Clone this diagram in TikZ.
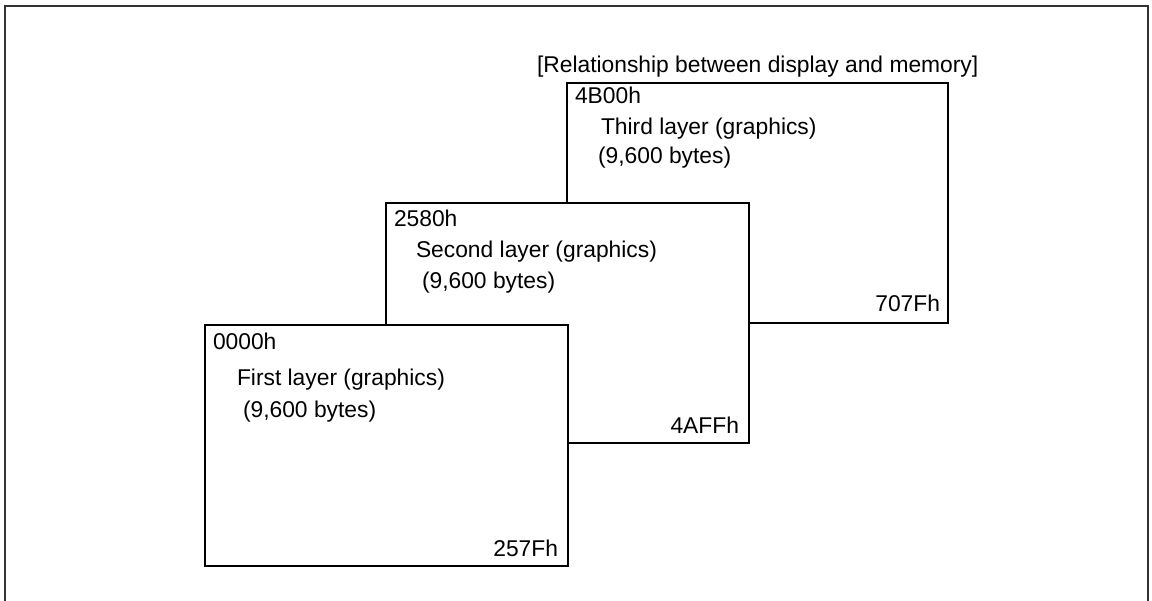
\documentclass[tikz,border=0pt]{standalone}
\usepackage{fontspec}
\setmainfont{Liberation Sans}
\begin{document}
\begin{tikzpicture}[x=1bp,y=-1bp,
  layer/.style={draw=black,line width=1.4bp,fill=white},
  lbl/.style={anchor=base west,inner sep=0pt,outer sep=0pt,font=\fontsize{22.9}{27}\selectfont},
  lblr/.style={anchor=base east,inner sep=0pt,outer sep=0pt,font=\fontsize{22.9}{27}\selectfont}]
\useasboundingbox (0,0) rectangle (1152,601);
\draw[line width=1.6bp,black!80] (5,601) -- (5,6) -- (1148,6) -- (1148,601);
\node[lbl] (title) at (537,73) {[Relationship between display and memory]};
% third layer
\draw[layer] (567,83) rectangle (948,323);
\node[lbl] (a3) at (575,104) {4B00h};
\node[lbl] (n3) at (601,135) {Third layer (graphics)};
\node[lbl] (s3) at (598,164) {(9,600 bytes)};
\node[lblr] (e3) at (940,312) {707Fh};
% second layer
\draw[layer] (386,203) rectangle (749,443);
\node[lbl] (a2) at (394,227) {2580h};
\node[lbl] (n2) at (416,258) {Second layer (graphics)};
\node[lbl] (s2) at (422,289) {(9,600 bytes)};
\node[lblr] (e2) at (739,433) {4AFFh};
% first layer
\draw[layer] (205,325) rectangle (568,566);
\node[lbl] (a1) at (213,349) {0000h};
\node[lbl] (n1) at (237,385) {First layer (graphics)};
\node[lbl] (s1) at (243,417) {(9,600 bytes)};
\node[lblr] (e1) at (558,556) {257Fh};
\end{tikzpicture}
\end{document}
